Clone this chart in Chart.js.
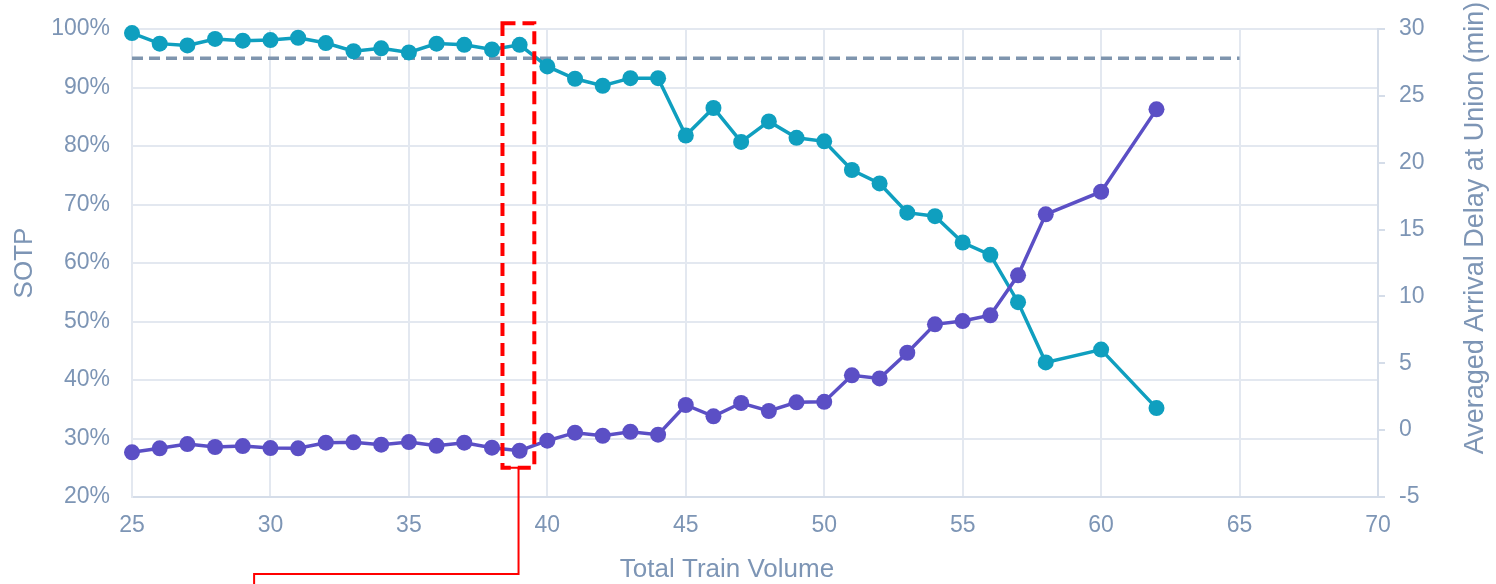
<!DOCTYPE html>
<html lang="en">
<head>
  <meta charset="UTF-8" />
  <title>SOTP vs Total Train Volume</title>
  <style>
    html, body {
      margin: 0;
      padding: 0;
      background: #ffffff;
    }
    .chart-container {
      width: 1496px;
      height: 584px;
    }
  </style>
</head>
<body>
  <div class="chart-container">
    <canvas id="sotp-chart"></canvas>
  </div>

  <script src="https://cdn.jsdelivr.net/npm/chart.js"></script>
  <script>
    // Data.
    const volumes = [25, 26, 27, 28, 29, 30, 31, 32, 33, 34, 35, 36, 37, 38, 39, 40, 41, 42, 43, 44,
                     45, 46, 47, 48, 49, 50, 51, 52, 53, 54, 55, 56, 57, 58, 60, 62];
    const sotp = [99.3, 97.5, 97.2, 98.3, 98.0, 98.1, 98.5, 97.6, 96.2, 96.7, 96.0, 97.5, 97.3, 96.5, 97.3,
                  93.6, 91.5, 90.3, 91.6, 91.6, 81.8, 86.5, 80.7, 84.2, 81.4, 80.8, 75.9, 73.6, 68.6, 68.0,
                  63.5, 61.4, 53.3, 43.0, 45.2, 35.2];
    const delay = [-1.66, -1.36, -1.04, -1.26, -1.19, -1.34, -1.36, -0.94, -0.91, -1.09, -0.89, -1.17, -0.94,
                   -1.31, -1.54, -0.79, -0.19, -0.42, -0.12, -0.34, 1.88, 1.03, 2.03, 1.43, 2.08, 2.12,
                   4.10, 3.87, 5.79, 7.91, 8.16, 8.59, 11.58, 16.14, 17.83, 23.99];
    const targetVolumes = [25, 65];
    const targetSotp = [95, 95];

    // Highlight box around volume 39 (data units) and where its leader line turns.
    const boxVolumes = [38.38, 39.53];
    const boxSotp = [25, 101];
    const leaderVolumes = [38.96, 29.41];

    const textColor = '#7d95b5';
    const gridColor = '#e3e8f0';
    const fontFamily = 'Arial, "Liberation Sans", sans-serif';

    // Draws the red highlight box, its leader line and the two titles Chart.js can't place like the original.
    const extrasPlugin = {
      id: 'extras',
      afterDraw(chart) {
        const ctx = chart.ctx;
        const x = chart.scales.x;
        const y = chart.scales.y;
        const area = chart.chartArea;

        const bx0 = x.getPixelForValue(boxVolumes[0]);
        const bx1 = x.getPixelForValue(boxVolumes[1]);
        const by0 = y.getPixelForValue(boxSotp[1]);
        const by1 = y.getPixelForValue(boxSotp[0]);

        ctx.save();
        ctx.strokeStyle = '#ff0000';
        ctx.lineWidth = 4;
        ctx.setLineDash([13, 7]);
        ctx.strokeRect(bx0, by0, bx1 - bx0, by1 - by0);

        // Leader line running below the axis title.
        const lx0 = x.getPixelForValue(leaderVolumes[0]);
        const lx1 = x.getPixelForValue(leaderVolumes[1]);
        const turnY = area.bottom + 77;
        ctx.setLineDash([]);
        ctx.lineWidth = 2;
        ctx.beginPath();
        ctx.moveTo(bx0, by1);
        ctx.lineTo(lx0, by1);
        ctx.lineTo(lx0, turnY);
        ctx.lineTo(lx1, turnY);
        ctx.lineTo(lx1, chart.height + 2);
        ctx.stroke();

        // Axis titles.
        ctx.fillStyle = textColor;
        ctx.font = '26px ' + fontFamily;
        ctx.textAlign = 'center';
        ctx.textBaseline = 'middle';
        ctx.fillText('Total Train Volume', (area.left + area.right) / 2 - 28, area.bottom + 73);

        ctx.font = '27px ' + fontFamily;
        ctx.translate(chart.scales.y2.right - 20, (area.top + area.bottom) / 2 - 35);
        ctx.rotate(-Math.PI / 2);
        ctx.fillText('Averaged Arrival Delay at Union (min)', 0, 0);
        ctx.restore();
      }
    };

    // Fixed axis sizes so the plot area sits where it does in the original.
    const fixWidth = (w) => (scale) => {
      scale.width = w;
      scale.paddingTop = 0;
      scale.paddingBottom = 0;
    };

    new Chart(document.getElementById('sotp-chart'), {
      type: 'line',
      data: {
        datasets: [
          {
            label: 'Target',
            data: targetVolumes.map((v, i) => ({ x: v, y: targetSotp[i] })),
            yAxisID: 'y',
            borderColor: '#7f95ae',
            borderWidth: 3.5,
            borderDash: [11, 6],
            pointRadius: 0,
            order: 3
          },
          {
            label: 'SOTP',
            data: volumes.map((v, i) => ({ x: v, y: sotp[i] })),
            yAxisID: 'y',
            borderColor: '#0f9fbf',
            backgroundColor: '#0f9fbf',
            borderWidth: 3.5,
            pointRadius: 8,
            pointBorderWidth: 0,
            clip: false,
            order: 2
          },
          {
            label: 'Delay',
            data: volumes.map((v, i) => ({ x: v, y: delay[i] })),
            yAxisID: 'y2',
            borderColor: '#5b4fc5',
            backgroundColor: '#5b4fc5',
            borderWidth: 3.5,
            pointRadius: 8,
            pointBorderWidth: 0,
            clip: false,
            order: 1
          }
        ]
      },
      options: {
        responsive: true,
        maintainAspectRatio: false,
        animation: false,
        layout: { padding: { top: 29, left: 0, right: 0, bottom: 0 } },
        plugins: {
          legend: { display: false },
          tooltip: { enabled: false }
        },
        scales: {
          x: {
            type: 'linear',
            min: 25,
            max: 70,
            ticks: {
              stepSize: 5,
              color: textColor,
              padding: 15,
              font: { family: fontFamily, size: 23 }
            },
            grid: { color: gridColor, lineWidth: 2, drawTicks: false },
            border: { color: '#d5dde9', width: 2 },
            afterFit: (scale) => { scale.height = 87; }
          },
          y: {
            position: 'left',
            min: 20,
            max: 100,
            ticks: {
              stepSize: 10,
              color: textColor,
              padding: 22,
              font: { family: fontFamily, size: 23 },
              callback: (v) => v + '%'
            },
            title: {
              display: true,
              text: 'SOTP',
              color: textColor,
              padding: { top: 9, bottom: 0 },
              font: { family: fontFamily, size: 26 }
            },
            grid: { color: gridColor, lineWidth: 2, drawTicks: false },
            border: { color: gridColor, width: 2 },
            afterFit: fixWidth(132)
          },
          y2: {
            position: 'right',
            min: -5,
            max: 30,
            ticks: {
              stepSize: 5,
              color: textColor,
              padding: 14,
              font: { family: fontFamily, size: 23 }
            },
            grid: { drawOnChartArea: false, color: '#d5dde9', lineWidth: 2, tickLength: 7 },
            border: { color: '#d5dde9', width: 2 },
            afterFit: fixWidth(118)
          }
        }
      },
      plugins: [extrasPlugin]
    });
  </script>
</body>
</html>
